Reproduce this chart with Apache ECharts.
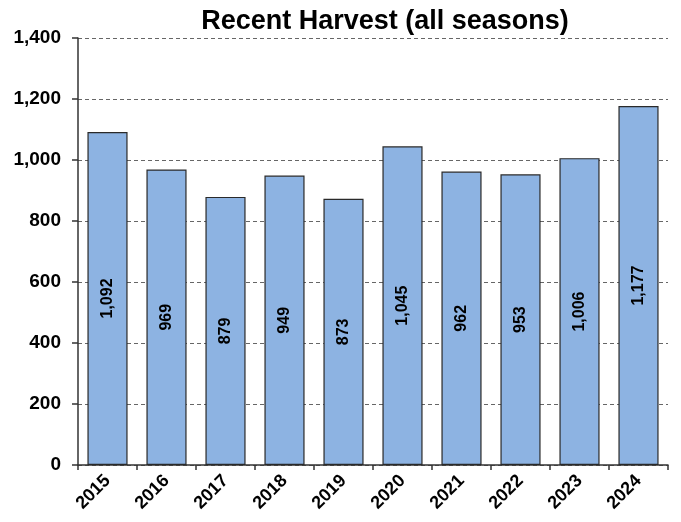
<!DOCTYPE html>
<html><head><meta charset="utf-8">
<script src="https://cdn.jsdelivr.net/npm/echarts@6/dist/echarts.min.js"></script>
<style>html,body{margin:0;padding:0;background:#fff}#c{width:681px;height:522px}</style>
</head><body><div id="c"></div>
<script>
const categories = ['2015','2016','2017','2018','2019','2020','2021','2022','2023','2024'];
const harvest = [1092, 969, 879, 949, 873, 1045, 962, 953, 1006, 1177];
const yTicks = [0, 200, 400, 600, 800, 1000, 1200, 1400];
const fmt = v => v.toLocaleString('en-US');
const chart = echarts.init(document.getElementById('c'));
const F = '"Liberation Sans", Arial, sans-serif';
chart.setOption({
  animation: false,
  title: { text: 'Recent Harvest (all seasons)', left: 380, top: 3, textAlign: 'center',
    textStyle: { fontFamily: F, fontSize: 27, fontWeight: 'bold', color: '#000' } },
  grid: { left: 78, right: 13, top: 38, bottom: 57 },
  xAxis: { type: 'category', data: categories,
    axisLine: { lineStyle: { color: '#333', width: 1.5 } },
    axisTick: { show: true, length: 5, lineStyle: { color: '#333', width: 1.5 } },
    axisLabel: { rotate: 45, fontFamily: F, fontSize: 18, fontWeight: 'bold', color: '#000', margin: 13 } },
  yAxis: { type: 'value', min: 0, max: 1400, interval: 200,
    axisLine: { show: true, lineStyle: { color: '#333', width: 1.5 } },
    axisTick: { show: true, length: 6, lineStyle: { color: '#333', width: 1.5 } },
    splitLine: { lineStyle: { color: '#666', type: [4, 3], width: 1 } },
    axisLabel: { fontFamily: F, fontSize: 19, fontWeight: 'bold', color: '#000', margin: 17,
      formatter: v => yTicks.includes(v) ? fmt(v) : '' } },
  series: [{ type: 'bar', data: harvest, barCategoryGap: '32%',
    itemStyle: { color: '#8DB3E2', borderColor: '#2a2a2a', borderWidth: 1.2 },
    label: { show: true, position: 'inside', rotate: 90, formatter: p => fmt(p.value),
      fontFamily: F, fontSize: 16, fontWeight: 'bold', color: '#000' } }]
});
</script></body></html>
